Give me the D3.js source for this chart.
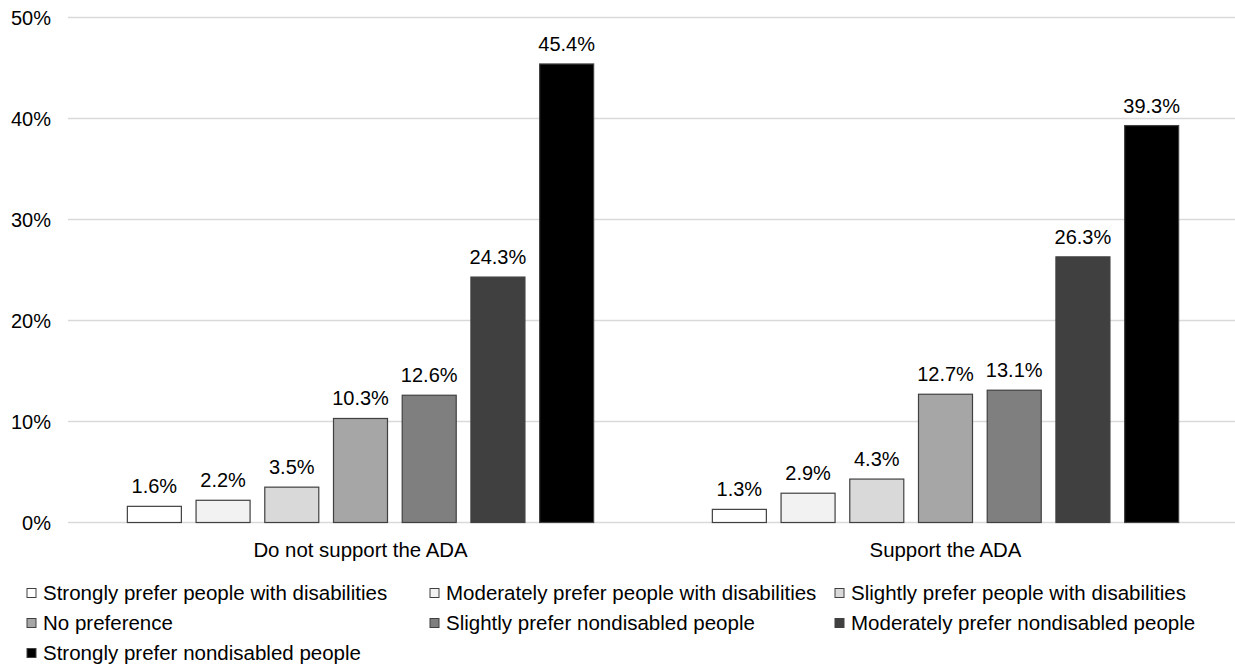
<!DOCTYPE html>
<html><head><meta charset="utf-8">
<script src="https://cdn.jsdelivr.net/npm/d3@7"></script>
<style>body{margin:0;background:#fff;} text{font-family:"Liberation Sans",Arial,sans-serif;fill:#000;}</style>
</head><body><svg id="c" width="1235" height="668"></svg>
<script>
const groups = ["Do not support the ADA", "Support the ADA"];
const seriesNames = ["Strongly prefer people with disabilities","Moderately prefer people with disabilities","Slightly prefer people with disabilities","No preference","Slightly prefer nondisabled people","Moderately prefer nondisabled people","Strongly prefer nondisabled people"];
const doNotSupport = [1.6, 2.2, 3.5, 10.3, 12.6, 24.3, 45.4];
const support = [1.3, 2.9, 4.3, 12.7, 13.1, 26.3, 39.3];
const colors = ["#ffffff","#f2f2f2","#d9d9d9","#a6a6a6","#7f7f7f","#404040","#000000"];
const yTicks = [0,10,20,30,40,50];

const values = [doNotSupport, support];
const svg = d3.select("#c");
const x0 = d3.scaleBand().domain(groups).range([68,1238]).padding(0);
const x1 = d3.scaleBand().domain(seriesNames).range([52,533]).paddingInner(0.214).paddingOuter(0.107);
const y = d3.scaleLinear().domain([0,50]).range([522.5,17.5]);

svg.append("g").selectAll("line").data(yTicks).join("line")
  .attr("x1",68).attr("x2",1235).attr("y1",d=>y(d)).attr("y2",d=>y(d))
  .attr("stroke","#d9d9d9").attr("stroke-width",1.5);
svg.append("g").selectAll("text").data(yTicks).join("text")
  .attr("x",51).attr("y",d=>y(d)).attr("dy","0.35em").attr("text-anchor","end")
  .attr("font-size",20).text(d=>d+"%");

groups.forEach((g,gi)=>{
  const gg = svg.append("g").attr("transform",`translate(${x0(g)},0)`);
  gg.selectAll("rect").data(values[gi]).join("rect")
    .attr("x",(d,i)=>x1(seriesNames[i])).attr("width",x1.bandwidth())
    .attr("y",d=>y(d)).attr("height",d=>y(0)-y(d))
    .attr("fill",(d,i)=>colors[i]).attr("stroke","#404040").attr("stroke-width",1.2);
  gg.selectAll("text.v").data(values[gi]).join("text").attr("class","v")
    .attr("x",(d,i)=>x1(seriesNames[i])+x1.bandwidth()/2).attr("y",d=>y(d)-13)
    .attr("text-anchor","middle").attr("font-size",20).text(d=>d.toFixed(1)+"%");
  gg.append("text").attr("x",x0.bandwidth()/2).attr("y",557).attr("text-anchor","middle")
    .attr("font-size",20.4).text(g);
});

const legCols = [27, 430, 835];
const legRows = [593, 623, 653];
const lg = svg.append("g");
seriesNames.forEach((s,i)=>{
  const cx = legCols[i%3], cy = legRows[Math.floor(i/3)];
  lg.append("rect").attr("x",cx).attr("y",cy-4.5).attr("width",9).attr("height",9)
    .attr("fill",colors[i]).attr("stroke","#404040").attr("stroke-width",1);
  lg.append("text").attr("x",cx+16).attr("y",cy).attr("dy","0.35em").attr("font-size",20.5).text(s);
});
</script></body></html>
